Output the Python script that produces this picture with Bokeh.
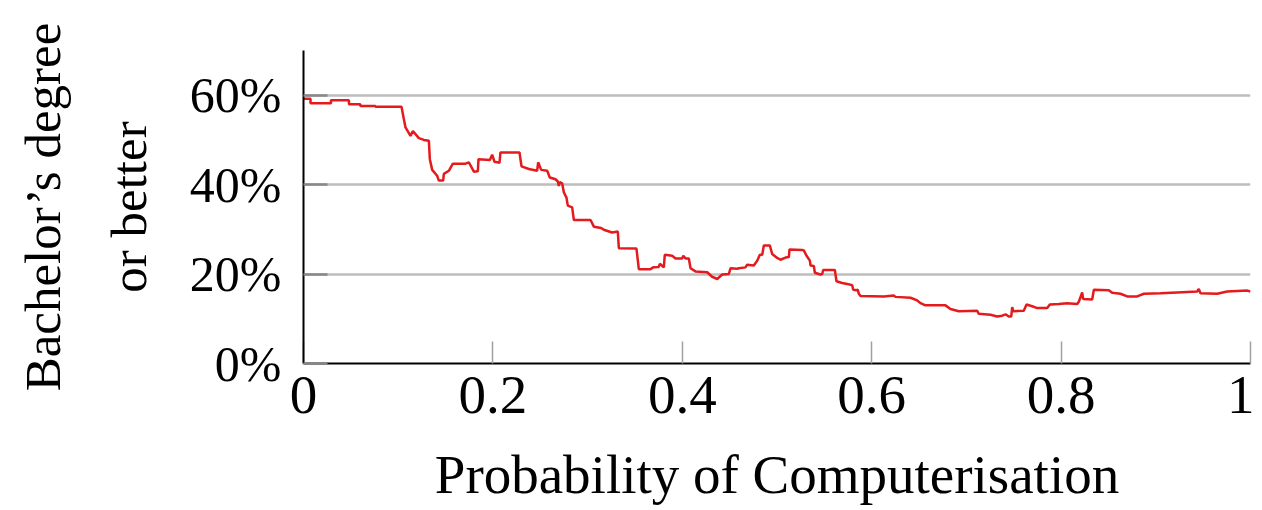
from bokeh.plotting import figure
from bokeh.models import LinearAxis, FixedTicker, PrintfTickFormatter, CustomJSTickFormatter, Range1d
from bokeh.embed import file_html
from bokeh.resources import INLINE

# Probability of computerisation (x) vs share with Bachelor's degree or better (y, %)
prob = [0.000, 0.0074, 0.0074, 0.029, 0.029, 0.048, 0.048, 0.060, 0.060, 0.076, 0.076, 0.1035,
        0.106, 0.1077, 0.113, 0.1155, 0.1218, 0.1271, 0.1324, 0.1334, 0.1359, 0.1411, 0.1429,
        0.1475, 0.1482, 0.1535, 0.1577, 0.1711, 0.1746, 0.1799, 0.1841, 0.1848, 0.1968, 0.1992,
        0.2017, 0.2070, 0.2080, 0.2281, 0.2302, 0.2380, 0.2467, 0.2478, 0.2510, 0.2573, 0.2601,
        0.2661, 0.2686, 0.2696, 0.2707, 0.2731, 0.2749, 0.2777, 0.2791, 0.2837, 0.2855, 0.3031,
        0.3066, 0.3143, 0.3171, 0.3259, 0.3319, 0.3330, 0.3516, 0.3541, 0.3664, 0.3693, 0.3752,
        0.3763, 0.3805, 0.3815, 0.3893, 0.3928, 0.3999, 0.4010, 0.4034, 0.4069, 0.4087, 0.4139,
        0.4263, 0.4315, 0.4369, 0.4421, 0.4491, 0.4509, 0.4580, 0.4597, 0.4667, 0.4685, 0.4755,
        0.4791, 0.4819, 0.4844, 0.4861, 0.4924, 0.4949, 0.5002, 0.5037, 0.5090, 0.5125, 0.5132,
        0.5266, 0.5283, 0.5312, 0.5347, 0.5354, 0.5389, 0.5400, 0.5459, 0.5477, 0.5488, 0.5611,
        0.5628, 0.5688, 0.5741, 0.5794, 0.5805, 0.5840, 0.5853, 0.5864, 0.5882, 0.6128, 0.6233,
        0.6251, 0.6410, 0.6480, 0.6515, 0.6568, 0.6779, 0.6832, 0.6920, 0.7114, 0.7131, 0.7255,
        0.7325, 0.7378, 0.7413, 0.7448, 0.7473, 0.7484, 0.7494, 0.7606, 0.7635, 0.7695, 0.7748,
        0.7853, 0.7881, 0.7976, 0.8064, 0.8170, 0.8187, 0.8223, 0.8233, 0.8328, 0.8346, 0.8504,
        0.8540, 0.8627, 0.8698, 0.8804, 0.8874, 0.9050, 0.9226, 0.9437, 0.9454, 0.9472, 0.9648,
        0.9754, 0.9966, 1.0000]
bachelor = [59.2, 59.2, 58.2, 58.2, 58.9, 58.9, 58.0, 58.0, 57.6, 57.6, 57.4, 57.4,
            54.6, 52.8, 50.9, 52.0, 50.4, 50.0, 49.8, 45.7, 43.3, 42.0, 40.9,
            40.9, 42.4, 43.1, 44.7, 44.7, 45.0, 42.9, 43.0, 45.7, 45.5, 46.7,
            45.1, 44.9, 47.2, 47.2, 44.1, 43.5, 43.1, 45.0, 43.3, 43.1, 41.6,
            41.2, 40.7, 39.7, 40.6, 40.3, 38.3, 37.1, 35.3, 34.9, 32.1, 32.1,
            30.6, 30.3, 29.9, 29.3, 29.5, 25.8, 25.7, 21.1, 21.1, 21.5, 21.6,
            22.3, 21.5, 24.3, 24.1, 23.5, 23.5, 24.1, 23.5, 23.5, 21.3, 20.6,
            20.4, 19.4, 18.9, 19.9, 20.0, 21.3, 21.2, 21.3, 21.5, 22.1, 21.9,
            23.0, 24.3, 24.3, 26.4, 26.4, 24.5, 23.6, 23.2, 23.7, 23.8, 25.5,
            25.4, 25.3, 24.1, 23.0, 21.9, 21.8, 20.3, 19.9, 20.0, 20.9, 20.9,
            18.4, 18.0, 17.8, 17.5, 16.5, 16.4, 16.5, 15.6, 15.1, 15.0, 15.2,
            14.9, 14.7, 14.1, 13.5, 13.0, 13.0, 12.2, 11.7, 11.8, 11.1, 10.9,
            10.5, 10.7, 11.0, 10.5, 10.5, 12.6, 11.7, 11.8, 13.2, 12.8, 12.4,
            12.4, 13.2, 13.3, 13.5, 13.3, 13.8, 15.9, 14.4, 14.3, 16.5, 16.4,
            15.8, 15.6, 15.0, 15.0, 15.6, 15.7, 15.9, 16.1, 16.7, 15.7, 15.6,
            16.1, 16.3, 16.1]

x_ticks = [0, 0.2, 0.4, 0.6, 0.8, 1]
y_ticks = [0, 20, 40, 60]
grid_ticks = [20, 40, 60]
y_label_lines = ["Bachelor\u2019s degree", "or better"]
x_label = "Probability of Computerisation"

FONT = "Liberation Serif"

p = figure(width=1254, height=508, x_range=Range1d(0, 1), y_range=Range1d(0, 70),
           output_backend="svg", toolbar_location=None,
           min_border_left=303, min_border_right=4, min_border_top=50, min_border_bottom=145)
p.outline_line_color = None
p.background_fill_color = "white"
p.border_fill_color = "white"

p.xgrid.visible = False
p.ygrid.ticker = FixedTicker(ticks=grid_ticks)
p.ygrid.grid_line_color = "#bdbdbd"
p.ygrid.grid_line_width = 2.5

p.line(prob, bachelor, line_color="#e41a1c", line_width=2.5)

xa = p.xaxis[0]
xa.ticker = FixedTicker(ticks=x_ticks)
xa.formatter = CustomJSTickFormatter(code="return tick == 0 ? '0' : (tick == 1 ? '1' : tick.toFixed(1));")
xa.major_tick_in = 22
xa.major_tick_out = 0
xa.major_tick_line_color = "#a0a0a0"
xa.major_tick_line_width = 1.5
xa.minor_tick_line_color = None
xa.axis_line_color = "black"
xa.axis_line_width = 2
xa.major_label_text_font = FONT
xa.major_label_text_font_size = "55px"
xa.major_label_text_color = "black"
xa.major_label_standoff = 13
xa.axis_label = x_label
xa.axis_label_text_font = FONT
xa.axis_label_text_font_size = "55px"
xa.axis_label_text_font_style = "normal"
xa.axis_label_text_color = "black"
xa.axis_label_standoff = 28

ya = p.yaxis[0]
ya.ticker = FixedTicker(ticks=y_ticks)
ya.formatter = PrintfTickFormatter(format="%d%%")
ya.major_tick_in = 24
ya.major_tick_out = 0
ya.major_tick_line_color = "#888888"
ya.major_tick_line_width = 2.5
ya.minor_tick_line_color = None
ya.axis_line_color = "black"
ya.axis_line_width = 2
ya.major_label_text_font = FONT
ya.major_label_text_font_size = "50px"
ya.major_label_text_color = "black"
ya.major_label_standoff = 22
ya.axis_label = y_label_lines[1]
ya.axis_label_text_font = FONT
ya.axis_label_text_font_size = "51px"
ya.axis_label_text_font_style = "normal"
ya.axis_label_text_color = "black"
ya.axis_label_standoff = 30

outer = LinearAxis(ticker=FixedTicker(ticks=[]), axis_line_color=None,
                   major_tick_line_color=None, minor_tick_line_color=None,
                   axis_label=y_label_lines[0], axis_label_text_font=FONT,
                   axis_label_text_font_size="51px", axis_label_text_font_style="normal",
                   axis_label_text_color="black", axis_label_standoff=27)
p.add_layout(outer, "left")

open("out.html", "w").write(file_html(p, INLINE))
